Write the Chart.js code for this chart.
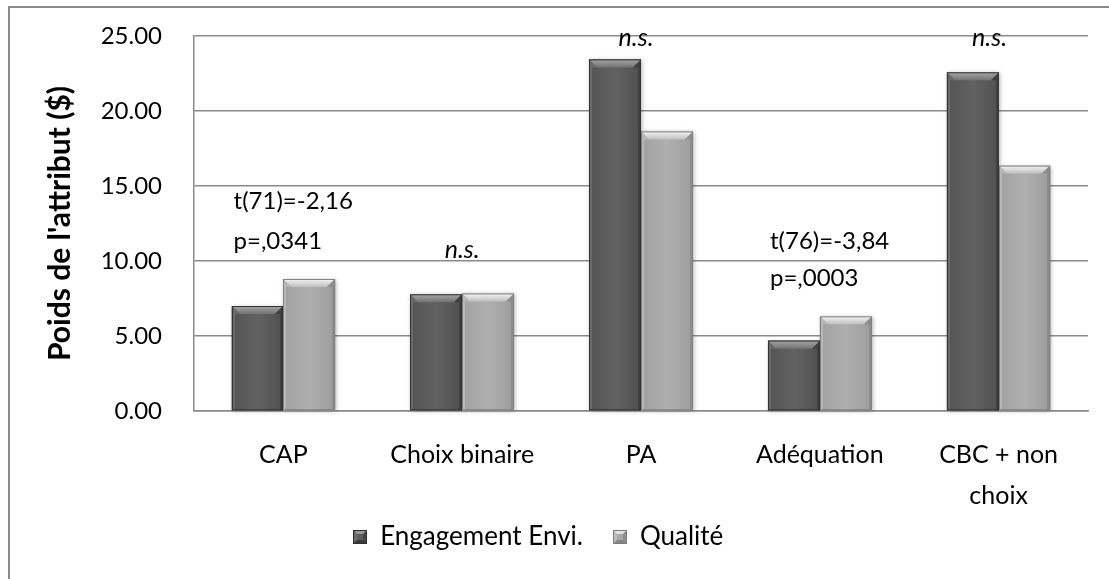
<!DOCTYPE html>
<html>
<head>
<meta charset="utf-8">
<script src="https://cdn.jsdelivr.net/npm/chart.js@4/dist/chart.umd.min.js"></script>
<style>
  body { margin: 0; background: #fff; }
  #wrap { width: 1109px; height: 579px; }
</style>
</head>
<body>
<div id="wrap"><canvas id="poidsChart" width="1109" height="579"></canvas></div>
<script>
// Data
const categories = ['CAP', 'Choix binaire', 'PA', 'Adéquation', ['CBC + non', 'choix']];
const engagementEnvi = [7.0, 7.78, 23.44, 4.69, 22.58];
const qualite = [8.8, 7.84, 18.64, 6.31, 16.36];
const yTicks = [0, 5, 10, 15, 20, 25];

// significance notes: category index, y value where the text sits, text, style
const notes = [
    { cat: 0, y: 13.95, text: 't(71)=-2,16', align: 'left' },
    { cat: 0, y: 11.3, text: 'p=,0341', align: 'left' },
    { cat: 1, y: 10.75, text: 'n.s.', italic: true },
    { cat: 2, y: 24.85, text: 'n.s.', italic: true, dx: -5 },
    { cat: 3, y: 11.3, text: 't(76)=-3,84', align: 'left' },
    { cat: 3, y: 8.85, text: 'p=,0003', align: 'left' },
    { cat: 4, y: 24.85, text: 'n.s.', italic: true, dx: -9 }
];

const FONT = 'Lato, "Open Sans", sans-serif';
const DARK = '#5c5c5c';
const LIGHT = '#a9a9a9';

function shade(hex, amt) {
    const n = parseInt(hex.slice(1), 16);
    let r = (n >> 16) + amt, g = ((n >> 8) & 255) + amt, b = (n & 255) + amt;
    r = Math.max(0, Math.min(255, r)); g = Math.max(0, Math.min(255, g)); b = Math.max(0, Math.min(255, b));
    return 'rgb(' + r + ',' + g + ',' + b + ')';
}

function poly(ctx, pts, fill) {
    ctx.fillStyle = fill;
    ctx.beginPath();
    ctx.moveTo(pts[0][0], pts[0][1]);
    for (let i = 1; i < pts.length; i++) ctx.lineTo(pts[i][0], pts[i][1]);
    ctx.closePath();
    ctx.fill();
}

// bevelled bar: slanted top face, thin side faces
function bevelBar(ctx, x0, y0, x1, y1, base) {
    const t = Math.min(8, (y1 - y0) / 2), s = 8, w = 3;
    const body = ctx.createLinearGradient(x0, 0, x1, 0);
    body.addColorStop(0, shade(base, -8));
    body.addColorStop(0.5, shade(base, 6));
    body.addColorStop(1, shade(base, -12));
    ctx.fillStyle = body;
    ctx.fillRect(x0, y0, x1 - x0, y1 - y0);
    const top = ctx.createLinearGradient(0, y0, 0, y0 + t);
    top.addColorStop(0, shade(base, 75));
    top.addColorStop(1, shade(base, 22));
    poly(ctx, [[x0, y0], [x1, y0], [x1 - s, y0 + t], [x0 + s, y0 + t]], top);
    poly(ctx, [[x0, y0], [x0 + s, y0 + t], [x0 + w, y0 + t], [x0 + w, y1], [x0, y1]], shade(base, 14));
    poly(ctx, [[x1, y0], [x1 - s, y0 + t], [x1 - w, y0 + t], [x1 - w, y1], [x1, y1]], shade(base, -28));
    ctx.strokeStyle = shade(base, -40);
    ctx.lineWidth = 1;
    ctx.strokeRect(x0 + 0.5, y0 + 0.5, x1 - x0 - 1, y1 - y0 - 1);
}

function swatch(color) {
    const c = document.createElement('canvas');
    c.width = 14; c.height = 14;
    const g = c.getContext('2d');
    g.fillStyle = color; g.fillRect(0, 0, 14, 14);
    poly(g, [[0, 0], [14, 0], [10, 4], [4, 4]], shade(color, 60));
    poly(g, [[0, 0], [4, 4], [4, 10], [0, 14]], shade(color, 20));
    poly(g, [[14, 0], [10, 4], [10, 10], [14, 14]], shade(color, -25));
    poly(g, [[0, 14], [4, 10], [10, 10], [14, 14]], shade(color, -35));
    g.strokeStyle = shade(color, -45);
    g.strokeRect(0.5, 0.5, 13, 13);
    return c;
}

const framePlugin = {
    id: 'frame',
    beforeDraw(chart) {
        const ctx = chart.ctx;
        ctx.save();
        ctx.fillStyle = '#fff';
        ctx.fillRect(0, 0, chart.width, chart.height);
        ctx.strokeStyle = '#8a8a8a';
        ctx.lineWidth = 2;
        ctx.beginPath();
        ctx.moveTo(9, chart.height);
        ctx.lineTo(9, 7);
        ctx.lineTo(chart.width, 7);
        ctx.stroke();
        ctx.restore();
    }
};

const bevelPlugin = {
    id: 'bevelBars',
    afterDatasetsDraw(chart) {
        const ctx = chart.ctx;
        ctx.save();
        chart.data.datasets.forEach((ds, di) => {
            chart.getDatasetMeta(di).data.forEach(bar => {
                const p = bar.getProps(['x', 'y', 'width', 'base'], true);
                const x0 = Math.round(p.x - p.width / 2), x1 = Math.round(p.x + p.width / 2);
                ctx.shadowColor = 'rgba(0,0,0,0.3)';
                ctx.shadowBlur = 4;
                ctx.shadowOffsetX = 1;
                ctx.shadowOffsetY = 1;
                ctx.fillStyle = ds.backgroundColor;
                ctx.fillRect(x0, p.y, x1 - x0, p.base - p.y);
                ctx.shadowColor = 'transparent';
                bevelBar(ctx, x0, p.y, x1, p.base, ds.backgroundColor);
            });
        });
        ctx.restore();
    }
};

const notesPlugin = {
    id: 'notes',
    afterDatasetsDraw(chart) {
        const ctx = chart.ctx;
        const xs = chart.scales.x, ys = chart.scales.y;
        const meta = chart.getDatasetMeta(0);
        ctx.save();
        ctx.fillStyle = '#000';
        ctx.textBaseline = 'middle';
        notes.forEach(n => {
            ctx.font = (n.italic ? 'italic 25px ' : '24px ') + FONT;
            const y = ys.getPixelForValue(n.y);
            if (n.align === 'left') {
                const bar = meta.data[n.cat];
                ctx.textAlign = 'left';
                ctx.fillText(n.text, bar.x - bar.width / 2 + 2, y);
            } else {
                ctx.textAlign = 'center';
                ctx.fillText(n.text, xs.getPixelForValue(n.cat) + (n.dx || 0), y);
            }
        });
        ctx.restore();
    }
};

const ctx = document.getElementById('poidsChart').getContext('2d');
const poidsChart = new Chart(ctx, {
    type: 'bar',
    data: {
        labels: categories,
        datasets: [{
            label: 'Engagement Envi.\u2002',
            data: engagementEnvi,
            backgroundColor: DARK,
            pointStyle: swatch(DARK)
        }, {
            label: 'Qualité\u2003',
            data: qualite,
            backgroundColor: LIGHT,
            pointStyle: swatch(LIGHT)
        }]
    },
    options: {
        responsive: false,
        animation: false,
        categoryPercentage: 0.58,
        barPercentage: 1.0,
        layout: { padding: { left: 8, right: 21, top: 36, bottom: 19 } },
        scales: {
            x: {
                afterFit(scale) { scale.height = 96; },
                grid: { display: false },
                border: { display: true, color: '#8a8a8a', width: 1.5 },
                ticks: {
                    color: '#000',
                    padding: 15,
                    maxRotation: 0,
                    font: { family: FONT, size: 25, lineHeight: 1.65 }
                }
            },
            y: {
                min: 0,
                max: 25,
                afterBuildTicks(scale) {
                    scale.ticks = yTicks.map(v => ({ value: v }));
                },
                afterFit(scale) { scale.width = 186; },
                grid: {
                    color: '#8a8a8a',
                    lineWidth: 1.5,
                    drawTicks: true,
                    tickLength: 28,
                    tickColor: 'rgba(0,0,0,0)'
                },
                border: { display: true, color: '#8a8a8a', width: 1.5 },
                ticks: {
                    color: '#000',
                    padding: 4,
                    font: { family: FONT, size: 24 },
                    callback: v => Number(v).toFixed(2)
                },
                title: {
                    display: true,
                    text: "Poids de l'attribut ($)",
                    color: '#000',
                    padding: { top: 34, bottom: 0 },
                    font: { family: FONT, size: 30, weight: 'bold' }
                }
            }
        },
        plugins: {
            legend: {
                position: 'bottom',
                labels: {
                    usePointStyle: true,
                    boxWidth: 14,
                    boxHeight: 14,
                    color: '#000',
                    padding: 17,
                    font: { family: FONT, size: 26 }
                }
            },
            tooltip: { enabled: false }
        }
    },
    plugins: [framePlugin, bevelPlugin, notesPlugin]
});
</script>
</body>
</html>
